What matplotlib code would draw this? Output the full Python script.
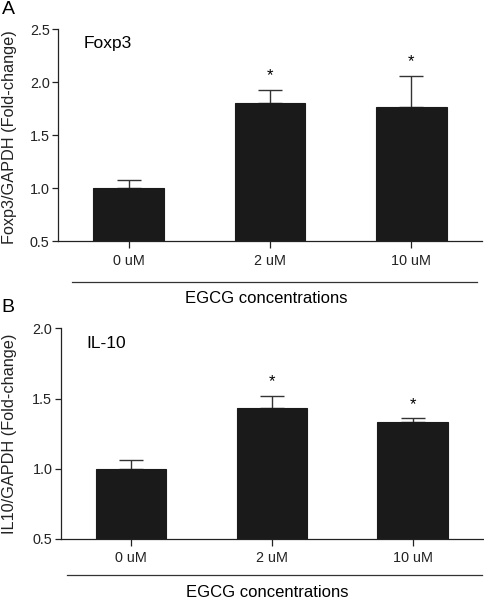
import matplotlib
matplotlib.use("Agg")
from matplotlib import pyplot
import numpy as np

pyplot.rcParams['font.family'] = ['Liberation Sans', 'DejaVu Sans']

groups = ["0 uM", "2 uM", "10 uM"]
foxp3_mean = [1.00, 1.80, 1.77]
foxp3_err = [0.08, 0.13, 0.29]
il10_mean = [1.00, 1.43, 1.33]
il10_err = [0.06, 0.09, 0.03]
xlabel = "EGCG concentrations"

def panel(fig, rect, means, errs, ylim, yticks, inner, line_y, text_y, line_x):
	ax = fig.add_axes(rect)
	x = np.arange(len(groups))
	ax.bar(x, means, width=0.5, color='#1a1a1a', edgecolor='#1a1a1a', linewidth=0.8, zorder=2)
	ax.errorbar(x, means, yerr=[np.zeros(len(errs)), errs], fmt='none', ecolor='#333333',
				elinewidth=1.0, capsize=8.3, capthick=1.0, zorder=1)
	span = ylim[1] - ylim[0]
	for i in range(1, len(groups)):
		ax.text(x[i], means[i] + errs[i] + span * 0.03, "*", ha='center', va='bottom', fontsize=12)
	ax.set_xlim(-0.5, 2.5)
	ax.set_ylim(*ylim)
	ax.set_yticks(yticks)
	ax.set_yticklabels(["%.1f" % t for t in yticks])
	ax.set_xticks(x)
	ax.set_xticklabels(groups)
	for s in ['top', 'right']:
		ax.spines[s].set_visible(False)
	for s in ['left', 'bottom']:
		ax.spines[s].set_color('#222222')
		ax.spines[s].set_linewidth(0.9)
	ax.tick_params(axis='both', labelsize=10.4, colors='#222222', width=0.9, length=4, pad=2)
	ax.tick_params(axis='x', length=5, pad=4)
	ax.text(0.06, 0.93, inner, transform=ax.transAxes, fontsize=12.5, va='center', ha='left')
	ax.plot(line_x, [line_y, line_y], transform=ax.transAxes, clip_on=False, color='#333333', lw=0.9)
	ax.text(0.49, text_y, xlabel, transform=ax.transAxes, ha='center', va='center', fontsize=12)
	return ax

fig = pyplot.figure(figsize=(4.85, 6.0), dpi=100)

panel(fig, [0.1196, 0.598, 0.8742, 0.3535], foxp3_mean, foxp3_err, (0.5, 2.5),
	  [0.5, 1.0, 1.5, 2.0, 2.5], "Foxp3", -0.193, -0.269, [0.033, 0.988])
panel(fig, [0.125, 0.1017, 0.871, 0.3511], il10_mean, il10_err, (0.5, 2.0),
	  [0.5, 1.0, 1.5, 2.0], "IL-10", -0.171, -0.256, [0.014, 0.998])

# y labels and panel letters in figure coords
fig.text(10 / 485, 1 - 137 / 600, "Foxp3/GAPDH (Fold-change)", rotation=90,
		 fontsize=11.7, ha='center', va='center', color='#222222')
fig.text(10 / 485, 1 - 434 / 600, "IL10/GAPDH (Fold-change)", rotation=90,
		 fontsize=11.7, ha='center', va='center', color='#222222')
fig.text(8 / 485, 1 - 10 / 600, "A", fontsize=14, ha='center', va='center')
fig.text(8 / 485, 1 - 308 / 600, "B", fontsize=14, ha='center', va='center')

pyplot.savefig("out.png", dpi=100)
